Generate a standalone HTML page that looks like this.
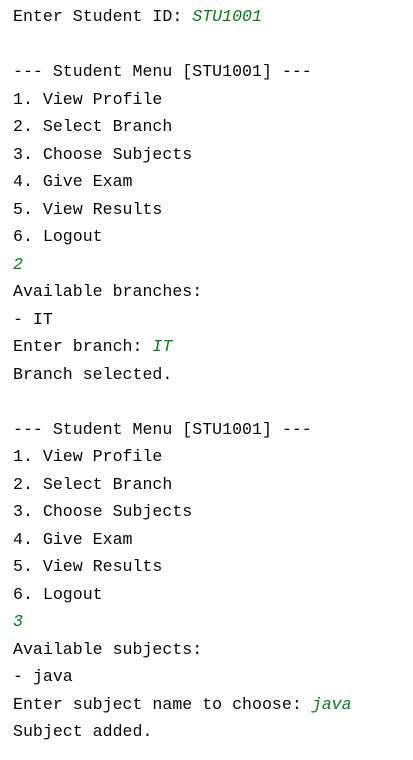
<!DOCTYPE html>
<html><head><meta charset="utf-8"><style>
html,body{margin:0;padding:0;background:#fff;width:413px;height:760px;overflow:hidden}
pre{margin:0;padding:3px 0 0 13px;font-family:"Liberation Mono","DejaVu Sans Mono",monospace;font-size:16.6px;line-height:27.5px;color:#080808}
i{color:#067d17;font-style:italic}
</style></head><body><pre>Enter Student ID: <i>STU1001</i>

--- Student Menu [STU1001] ---
1. View Profile
2. Select Branch
3. Choose Subjects
4. Give Exam
5. View Results
6. Logout
<i>2</i>
Available branches:
- IT
Enter branch: <i>IT</i>
Branch selected.

--- Student Menu [STU1001] ---
1. View Profile
2. Select Branch
3. Choose Subjects
4. Give Exam
5. View Results
6. Logout
<i>3</i>
Available subjects:
- java
Enter subject name to choose: <i>java</i>
Subject added.</pre></body></html>
